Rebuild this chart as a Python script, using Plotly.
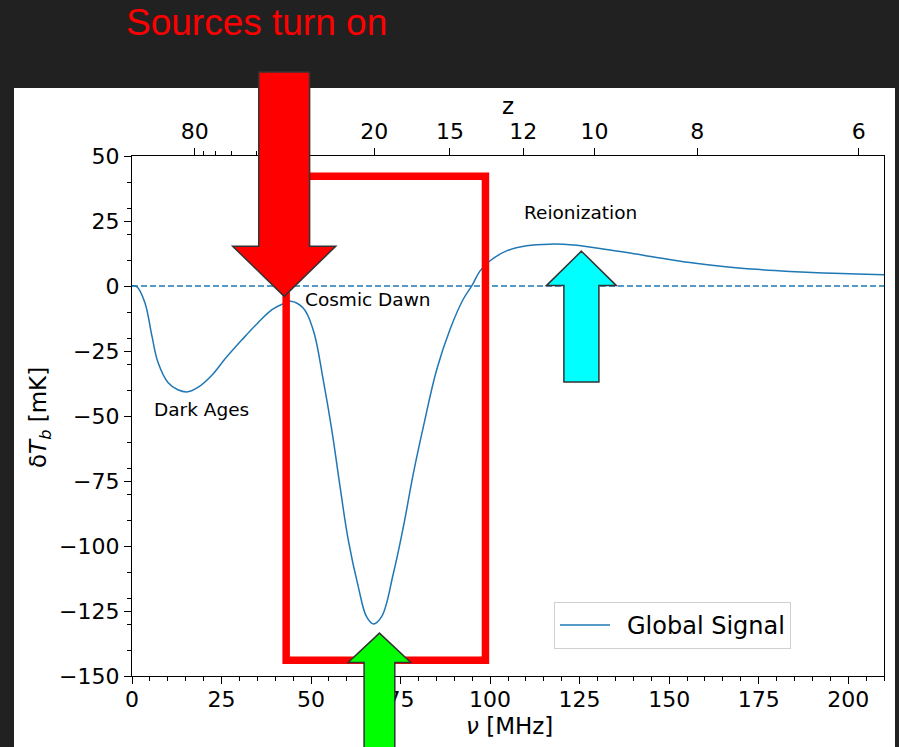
import plotly.graph_objects as go

# --- Global 21-cm signal (frequency in MHz, brightness temperature in mK) ---
nu_mhz = [0, 1.4, 3.6, 5.6, 7.3, 10.1, 12.8, 15.6, 18.4, 22.3, 26.0, 30.7, 35.2,
          39.1, 41.9, 44.3, 47.8, 50.6, 53.4, 55.8, 58.1, 60.4, 63.2, 65.5, 67.4,
          69.7, 73.0, 75.8, 78.6, 81.4, 85.1, 88.8, 92.5, 95.0, 97.2, 100.0, 104.6,
          110.2, 116.7, 123.2, 130.7, 138.2, 146.5, 155.8, 165.1, 174.4, 183.7,
          193.0, 202.3, 210.0]
dtb_mk = [0, -0.3, -6.4, -19.5, -29.5, -37.2, -39.9, -40.7, -39.0, -34.3, -28.0, -20.7,
          -14.1, -9.1, -7.0, -5.9, -8.5, -16.9, -36.1, -55.4, -77.2, -97.7, -115.7,
          -127.2, -130.0, -127.2, -110.5, -92.5, -71.9, -53.9, -32.1, -16.7, -5.1,
          0.3, 5.8, 9.7, 13.5, 15.5, 16.1, 15.8, 14.4, 12.9, 11.0, 9.0, 7.5, 6.4,
          5.6, 5.0, 4.6, 4.3]

# Redshift ticks for the top axis
z_major = [80, 20, 15, 12, 10, 8, 6]
z_minor = [70, 60, 50, 40, 30]
NU21 = 1420.4  # rest frequency of the 21-cm line, MHz

# Epoch labels: (text, nu, dTb)
epoch_labels = [("Dark Ages", 5.6, -47.6),
                ("Cosmic Dawn", 47.8, -5.2),
                ("Reionization", 109.0, 28.4)]

X_RANGE = [0, 210]
Y_RANGE = [-150, 50]

W, H = 899, 747
L, R, T, B = 132, 15, 156, 71  # plot-area margins in pixels
PW, PH = W - L - R, H - T - B

FONT = "DejaVu Sans"
C0 = "#1f77b4"


def px_x(px):
    return (px - L) / PW


def px_y(py):
    return (H - B - py) / PH


def dx(nu):
    return (nu - X_RANGE[0]) / (X_RANGE[1] - X_RANGE[0])


def dy(t):
    return (t - Y_RANGE[0]) / (Y_RANGE[1] - Y_RANGE[0])


def vertical_arrow(xc, tip, base, end, head_hw, shaft_hw):
    """Closed SVG path (paper units) of a block arrow along the y direction."""
    pts = [(xc, tip), (xc + head_hw, base), (xc + shaft_hw, base),
           (xc + shaft_hw, end), (xc - shaft_hw, end), (xc - shaft_hw, base),
           (xc - head_hw, base)]
    conv = [(dx(a), dy(b)) for a, b in pts]
    return "M " + " L ".join(f"{a:.5f},{b:.5f}" for a, b in conv) + " Z"


fig = go.Figure()

fig.add_trace(go.Scatter(x=[X_RANGE[0], X_RANGE[1]], y=[0, 0], mode="lines",
                         line=dict(color=C0, width=1.3, dash="6px,3px"),
                         showlegend=False, hoverinfo="skip"))
fig.add_trace(go.Scatter(x=nu_mhz, y=dtb_mk, mode="lines",
                         name="\u2002Global Signal",
                         line=dict(color=C0, width=1.5, shape="spline", smoothing=1.1)))
# keeps the redshift axis alive
fig.add_trace(go.Scatter(x=[X_RANGE[0]], y=[0], xaxis="x2", mode="markers",
                         marker=dict(size=0, opacity=0), showlegend=False,
                         hoverinfo="skip"))

shapes = []
# white panel behind the axes
shapes.append(dict(type="rect", xref="paper", yref="paper",
                   x0=px_x(14), x1=px_x(895), y0=px_y(747), y1=px_y(88),
                   fillcolor="white", line=dict(width=0), layer="below"))
# highlighted Cosmic Dawn window
shapes.append(dict(type="rect", xref="paper", yref="paper",
                   x0=dx(43.05), x1=dx(98.7), y0=dy(-143.9), y1=dy(42.2),
                   line=dict(color="#ff0000", width=7.5), fillcolor="rgba(0,0,0,0)",
                   layer="above"))
edge = dict(color="#333333", width=1.5)
# sources turn on (down arrow)
shapes.append(dict(type="path", xref="paper", yref="paper", layer="above",
                   path=vertical_arrow(42.5, -4.0, 15.3, 82.3, 14.4, 7.1),
                   fillcolor="#ff0000", line=edge))
# absorption trough (up arrow)
shapes.append(dict(type="path", xref="paper", yref="paper", layer="above",
                   path=vertical_arrow(69.1, -133.5, -144.8, -185.0, 8.75, 4.29),
                   fillcolor="#00ff00", line=edge))
# reionization emission (up arrow)
shapes.append(dict(type="path", xref="paper", yref="paper", layer="above",
                   path=vertical_arrow(125.5, 13.4, 0.15, -36.9, 9.77, 4.89),
                   fillcolor="#00ffff", line=edge))

annotations = [
    dict(text="Sources turn on", xref="paper", yref="paper", x=px_x(256.5),
         y=px_y(22), xanchor="center", yanchor="middle", showarrow=False,
         font=dict(family="Liberation Sans", size=37, color="#ff0000")),
    dict(text="<i>ν</i> [MHz]", xref="paper", yref="paper", x=px_x(509), y=px_y(726),
         xanchor="center", yanchor="middle", showarrow=False,
         font=dict(family=FONT, size=23, color="black")),
    dict(text="δ<i>T</i><sub><i>b</i></sub> [mK]", xref="paper", yref="paper",
         x=px_x(40), y=px_y(418), xanchor="center", yanchor="middle",
         textangle=-90, showarrow=False,
         font=dict(family=FONT, size=23, color="black")),
    dict(text="z", xref="paper", yref="paper", x=px_x(508), y=px_y(106),
         xanchor="center", yanchor="middle", showarrow=False,
         font=dict(family=FONT, size=23, color="black")),
]
for txt, nu, t in epoch_labels:
    annotations.append(dict(text=txt, x=nu, y=t, xref="x", yref="y",
                            xanchor="left", yanchor="middle", showarrow=False,
                            font=dict(family=FONT, size=18.5, color="black")))

axis_common = dict(showgrid=False, zeroline=False, showline=True,
                   linecolor="black", linewidth=1.3, ticks="outside",
                   tickcolor="black", tickwidth=1.4, ticklen=7,
                   tickfont=dict(family=FONT, size=22, color="black"))

fig.update_layout(
    width=W, height=H,
    margin=dict(l=L, r=R, t=T, b=B, pad=0),
    paper_bgcolor="#212121", plot_bgcolor="white",
    font=dict(family=FONT, color="black"),
    xaxis=dict(range=X_RANGE, tick0=0, dtick=25, mirror=False,
               ticklabelstandoff=-4,
               minor=dict(dtick=5, ticklen=4, tickwidth=1.1, tickcolor="black",
                          ticks="outside"),
               **axis_common),
    xaxis2=dict(range=X_RANGE, overlaying="x", side="top",
                tickvals=[NU21 / (1 + z) for z in z_major],
                ticktext=[str(z) for z in z_major],
                minor=dict(tickvals=[NU21 / (1 + z) for z in z_minor], ticklen=4,
                           tickwidth=1.1, tickcolor="black", ticks="outside"),
                **axis_common),
    yaxis=dict(range=Y_RANGE, tick0=0, dtick=25, mirror=True,
               minor=dict(tick0=0, dtick=10, ticklen=4, tickwidth=1.1,
                          tickcolor="black", ticks="outside"),
               **axis_common),
    legend=dict(x=px_x(791), y=px_y(649), xanchor="right", yanchor="bottom",
                bgcolor="white", bordercolor="#d0d0d0", borderwidth=1,
                font=dict(family=FONT, size=24, color="black"), itemwidth=50),
    shapes=shapes,
    annotations=annotations,
    showlegend=True,
)

fig.write_html("out.html")
